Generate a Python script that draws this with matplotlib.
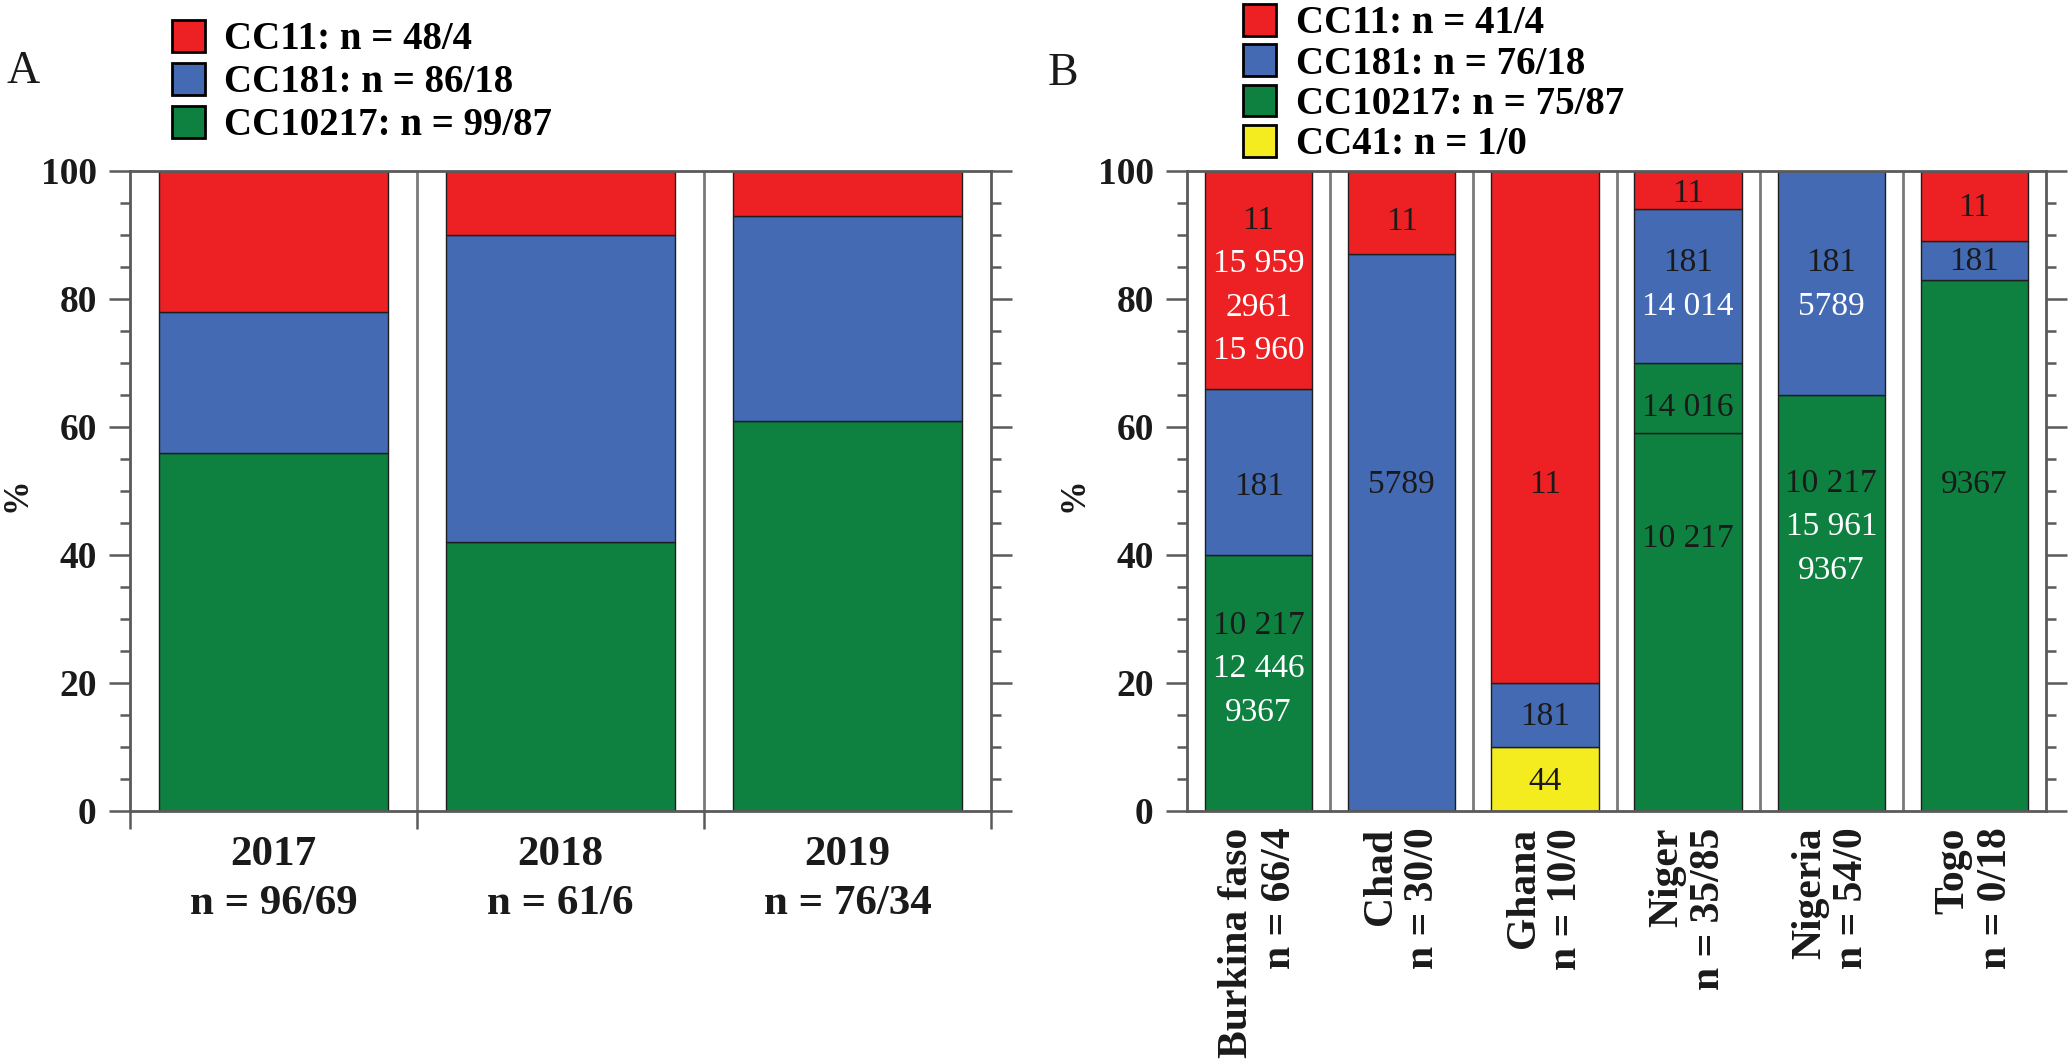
import matplotlib
matplotlib.use("Agg")
import matplotlib.pyplot as plt
from matplotlib.patches import Patch
from matplotlib.ticker import MultipleLocator

plt.rcParams['font.family'] = ['Liberation Serif', 'DejaVu Serif']

# ---------------- data ----------------
years = ['2017', '2018', '2019']
years_n = ['n = 96/69', 'n = 61/6', 'n = 76/34']
a_cc10217 = [56, 42, 61]
a_cc181 = [22, 48, 32]
a_cc11 = [22, 10, 7]
legend_a = ['CC11: n = 48/4', 'CC181: n = 86/18', 'CC10217: n = 99/87']

countries = ['Burkina faso', 'Chad', 'Ghana', 'Niger', 'Nigeria', 'Togo']
countries_n = ['n = 66/4', 'n = 30/0', 'n = 10/0', 'n = 35/85', 'n = 54/0', 'n = 0/18']
b_cc41 = [0, 0, 10, 0, 0, 0]
b_cc10217 = [40, 0, 0, 59, 65, 83]
b_cc10217_st14016 = [0, 0, 0, 11, 0, 0]
b_cc181 = [26, 87, 10, 24, 35, 6]
b_cc11 = [34, 13, 80, 6, 0, 11]
legend_b = ['CC11: n = 41/4', 'CC181: n = 76/18', 'CC10217: n = 75/87', 'CC41: n = 1/0']

# sequence-type labels inside bars: (country index, [(ST, new?)...])
st_labels = [
    (0, [('11', False), ('15 959', True), ('2961', True), ('15 960', True)]),
    (0, [('181', False)]),
    (0, [('10 217', False), ('12 446', True), ('9367', True)]),
    (1, [('11', False)]),
    (1, [('5789', False)]),
    (2, [('11', False)]),
    (2, [('181', False)]),
    (2, [('44', False)]),
    (3, [('11', False)]),
    (3, [('181', False), ('14 014', True)]),
    (3, [('14 016', False)]),
    (3, [('10 217', False)]),
    (4, [('181', False), ('5789', True)]),
    (4, [('10 217', False), ('15 961', True), ('9367', True)]),
    (5, [('11', False)]),
    (5, [('181', False)]),
    (5, [('9367', False)]),
]
# layout: y (%) of the first line of each label group above
st_label_top = [92.3, 50.6, 29.0, 92.0, 51.0, 51.0, 14.7, 4.5,
                96.5, 85.6, 63.0, 42.6, 85.6, 51.2, 94.2, 85.8, 51.0]

# ---------------- style ----------------
RED = '#ED2024'
BLUE = '#436AB2'
GREEN = '#0E8040'
YELLOW = '#F5EC1F'
EDGE = '#1e1e1e'
SPINE = '#5a5a5a'
TXT = '#1a1a1a'

fig = plt.figure(figsize=(20.7, 10.62), dpi=100)
W, H = 2070, 1062
ax_a = fig.add_axes([130 / W, 1 - 811 / H, 861 / W, 640 / H])
ax_b = fig.add_axes([1187 / W, 1 - 811 / H, 859 / W, 640 / H])


def style_axis(ax, ncat):
    ax.set_xlim(-0.5, ncat - 0.5)
    ax.set_ylim(0, 100)
    for s in ax.spines.values():
        s.set_color(SPINE)
        s.set_linewidth(2)
    ax.yaxis.set_major_locator(MultipleLocator(20))
    ax.yaxis.set_minor_locator(MultipleLocator(5))
    ax.tick_params(axis='y', which='both', left=True, right=True, direction='out',
                   color=SPINE, width=1.8, labelsize=27, pad=9)
    ax.tick_params(axis='y', which='major', length=15)
    ax.tick_params(axis='y', which='minor', length=7)
    for lab in ax.get_yticklabels():
        lab.set_fontweight('bold')
        lab.set_color(TXT)
    for x in range(ncat - 1):
        ax.axvline(x + 0.5, color='#7a7a7a', lw=2, zorder=0)
    ax.set_ylabel('%', fontsize=25, fontweight='bold', color=TXT)
    ax.yaxis.set_label_coords(-0.112, 0.495)


# ---------------- panel A ----------------
xa = list(range(len(years)))
bw_a = 0.8
bot = [0] * len(xa)
for vals, col in [(a_cc10217, GREEN), (a_cc181, BLUE), (a_cc11, RED)]:
    ax_a.bar(xa, vals, bw_a, bottom=bot, color=col, edgecolor=EDGE, linewidth=1, zorder=2)
    bot = [b + v for b, v in zip(bot, vals)]

style_axis(ax_a, len(years))
ax_a.set_xticks([i - 0.5 for i in range(len(years) + 1)])
ax_a.set_xticklabels([])
ax_a.set_xticks(xa, minor=True)
ax_a.set_xticklabels([f'{y}\n{n}' for y, n in zip(years, years_n)], minor=True,
                     fontsize=31, fontweight='bold', color=TXT, linespacing=1.38)
ax_a.tick_params(axis='x', which='major', length=13, width=1.8, color=SPINE, direction='out')
ax_a.tick_params(axis='x', which='minor', length=0, pad=18)

# ---------------- panel B ----------------
xb = list(range(len(countries)))
bw_b = 0.75
bot = [0] * len(xb)
for vals, col in [(b_cc41, YELLOW), (b_cc10217, GREEN), (b_cc10217_st14016, GREEN),
                  (b_cc181, BLUE), (b_cc11, RED)]:
    xs = [x for x, v in zip(xb, vals) if v > 0]
    hs = [v for v in vals if v > 0]
    bs = [b for b, v in zip(bot, vals) if v > 0]
    ax_b.bar(xs, hs, bw_b, bottom=bs, color=col, edgecolor=EDGE, linewidth=1, zorder=2)
    bot = [b + v for b, v in zip(bot, vals)]

style_axis(ax_b, len(countries))
ax_b.set_xticks(xb)
ax_b.set_xticklabels([f'{c}\n{n}' for c, n in zip(countries, countries_n)],
                     rotation=90, fontsize=30, fontweight='bold', color=TXT,
                     multialignment='right', linespacing=1.15)
ax_b.tick_params(axis='x', which='both', length=0, pad=12)

line_step = 6.8
for (ci, items), top in zip(st_labels, st_label_top):
    for k, (txt, new) in enumerate(items):
        ax_b.text(ci, top - k * line_step, txt, ha='center', va='center',
                  fontsize=24, color='white' if new else TXT, zorder=5)

# ---------------- legends & panel letters ----------------
leg_kw = dict(loc='upper left', frameon=False, borderpad=0, borderaxespad=0,
              handlelength=0.85, handleheight=0.88, handletextpad=0.5,
              bbox_transform=fig.transFigure,
              prop={'size': 28, 'weight': 'bold'})
ha = [Patch(facecolor=c, edgecolor='black', linewidth=2) for c in (RED, BLUE, GREEN)]
fig.legend(ha, legend_a, bbox_to_anchor=(172 / W, 1 - 20 / H), labelspacing=0.12, **leg_kw)
hb = [Patch(facecolor=c, edgecolor='black', linewidth=2) for c in (RED, BLUE, GREEN, YELLOW)]
fig.legend(hb, legend_b, bbox_to_anchor=(1243 / W, 1 - 4 / H), labelspacing=0.05, **leg_kw)

fig.text(23 / W, 1 - 72 / H, 'A', ha='center', va='center', fontsize=33, color=TXT)
fig.text(1063 / W, 1 - 74 / H, 'B', ha='center', va='center', fontsize=33, color=TXT)

fig.savefig('out.png', dpi=100)
